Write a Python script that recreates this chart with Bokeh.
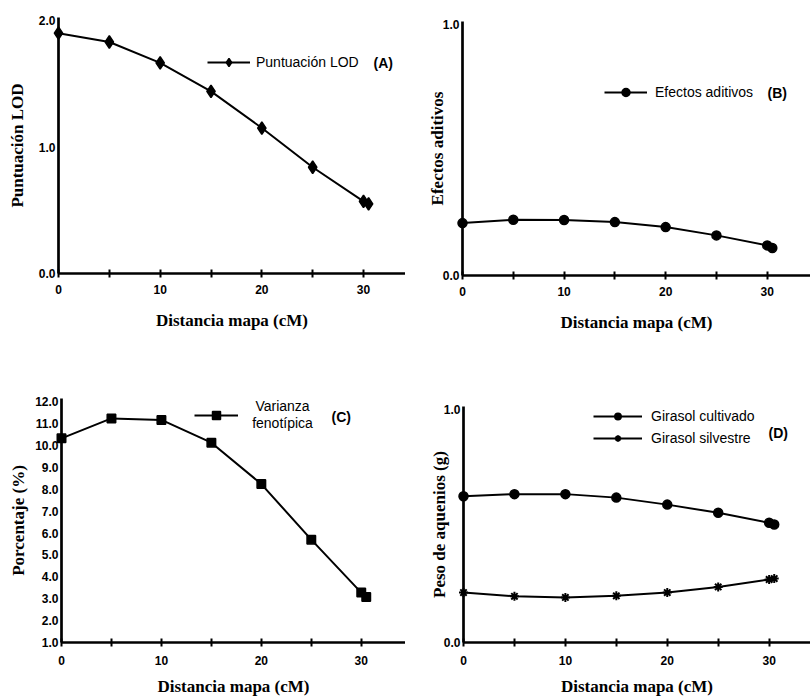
import numpy as np
from bokeh.plotting import figure
from bokeh.layouts import column, row
from bokeh.models import (Range1d, FixedTicker, PrintfTickFormatter, Legend, LegendItem, Label)
from bokeh.embed import file_html
from bokeh.resources import INLINE

# ---------------- data ----------------
distancia = [0, 5, 10, 15, 20, 25, 30, 30.5]
lod = [1.90, 1.83, 1.665, 1.44, 1.15, 0.84, 0.57, 0.55]
aditivos = [0.209, 0.222, 0.221, 0.213, 0.193, 0.160, 0.120, 0.110]
varianza = [10.33, 11.24, 11.17, 10.13, 8.24, 5.70, 3.28, 3.08]
cultivado = [0.627, 0.636, 0.636, 0.621, 0.591, 0.556, 0.513, 0.506]
silvestre = [0.214, 0.198, 0.193, 0.200, 0.214, 0.238, 0.270, 0.274]

x_ticks = [0, 10, 20, 30]
x_minor = [5, 15, 25]
yticks_A = [0, 1, 2]
yticks_B = [0, 1]
yticks_C = list(range(1, 13))
yticks_D = [0, 1]

xlabel = "Distancia mapa (cM)"

SERIF = "Liberation Serif"
SANS = "Liberation Sans"


def make_fig(width, height, xend, yr, yticks, ylabel, bl, bt, bb, ylab_so, xlab_so, xtick_so):
    p = figure(width=width, height=height, output_backend="svg", toolbar_location=None,
               x_range=Range1d(0, xend), y_range=Range1d(*yr),
               min_border_left=bl, min_border_right=0, min_border_top=bt, min_border_bottom=bb,
               frame_align=False)
    p.outline_line_color = None
    p.grid.visible = False
    p.background_fill_color = "white"
    p.border_fill_color = "white"
    for ax in (p.xaxis[0], p.yaxis[0]):
        ax.axis_line_width = 2.7
        ax.axis_line_color = "black"
        ax.major_label_text_font = SANS
        ax.major_label_text_font_style = "bold"
        ax.major_label_text_font_size = "12px"
        ax.major_label_text_color = "black"
        ax.axis_label_text_font = SERIF
        ax.axis_label_text_font_style = "bold"
        ax.axis_label_text_font_size = "17px"
        ax.axis_label_text_color = "black"
    xa = p.xaxis[0]
    xa.ticker = FixedTicker(ticks=x_ticks, minor_ticks=x_minor)
    xa.major_tick_in = 4
    xa.major_tick_out = 4
    xa.minor_tick_in = 4
    xa.minor_tick_out = 4
    xa.major_tick_line_width = 2
    xa.minor_tick_line_width = 2
    xa.major_tick_line_color = "black"
    xa.minor_tick_line_color = "black"
    xa.major_label_standoff = xtick_so
    xa.axis_label = xlabel
    xa.axis_label_standoff = xlab_so
    ya = p.yaxis[0]
    ya.ticker = FixedTicker(ticks=yticks)
    ya.formatter = PrintfTickFormatter(format="%.1f")
    ya.major_tick_in = 0
    ya.major_tick_out = 0
    ya.minor_tick_line_color = None
    ya.major_label_standoff = 3
    ya.axis_label = ylabel
    ya.axis_label_standoff = ylab_so
    return p


def add_series(p, y, marker, size, lw=1.5):
    ln = p.line(distancia, y, line_color="black", line_width=2)
    mk = p.scatter(distancia, y, marker=marker, size=size,
                   fill_color="black", line_color="black", line_width=lw)
    ln.level = "overlay"
    mk.level = "overlay"
    return ln, mk


def add_legend(p, items, vx, vy, gw, standoff, gh=20, spacing=2):
    lg = Legend(items=items, location=(vx, vy), padding=0, margin=0, spacing=spacing,
                border_line_alpha=0, background_fill_alpha=0,
                glyph_width=gw, glyph_height=gh, label_height=gh, label_standoff=standoff,
                label_text_font=SANS, label_text_font_size="14px", label_text_color="black")
    p.add_layout(lg)


def tag(p, text, vx, vy):
    p.add_layout(Label(x=vx, y=vy, x_units="screen", y_units="screen", text=text,
                       text_font=SANS, text_font_style="bold", text_font_size="14px",
                       text_baseline="middle", text_align="left", text_color="black"))


# Panel A
pA = make_fig(405, 349, 34.13, (0, 2.024), yticks_A, "Puntuación LOD", 58, 17, 76, 9, 14, 7)
lA, mA = add_series(pA, lod, "diamond", 12.5)
add_legend(pA, [LegendItem(label="Puntuación LOD", renderers=[lA, mA])], 149, 201, 43, 6)
tag(pA, "(A)", 315, 211)

# Panel B
pB = make_fig(405, 349, 34.26, (0, 1.013), yticks_B, "Efectos aditivos", 57, 21, 74, -7, 14, 7)
lB, mB = add_series(pB, aditivos, "circle", 9)
add_legend(pB, [LegendItem(label="Efectos aditivos", renderers=[lB, mB])], 142, 173, 43, 8)
tag(pB, "(B)", 305, 183)

# Panel C
pC = make_fig(405, 349, 34.43, (1, 12.15), yticks_C, "Porcentaje (%)", 61, 49, 55, 4, 9, 9)
lC, mC = add_series(pC, varianza, "square", 8.5)
add_legend(pC, [LegendItem(label=" ", renderers=[lC, mC])], 133, 217, 44, 6)
for txt, vy in (("Varianza", 237), ("fenotípica", 220)):
    pC.add_layout(Label(x=221, y=vy, x_units="screen", y_units="screen", text=txt,
                        text_font=SANS, text_font_size="14px", text_baseline="middle",
                        text_align="center", text_color="black"))
tag(pC, "(C)", 270, 226)

# Panel D
pD = make_fig(405, 349, 34.06, (0, 1.0116), yticks_D, "Peso de aquenios (g)", 58, 57, 56, -8, 9, 9)
lD1, mD1 = add_series(pD, cultivado, "circle", 9)
lD2, mD2 = add_series(pD, silvestre, "asterisk", 9, lw=2)
add_legend(pD, [LegendItem(label="Girasol cultivado", renderers=[lD1, mD1]),
                LegendItem(label="Girasol silvestre", renderers=[lD2, mD2])], 130, 196, 49, 9,
           gh=16, spacing=6)
tag(pD, "(D)", 305, 210)

layout = column(row(pA, pB), row(pC, pD))
open("out.html", "w").write(file_html(layout, INLINE))
